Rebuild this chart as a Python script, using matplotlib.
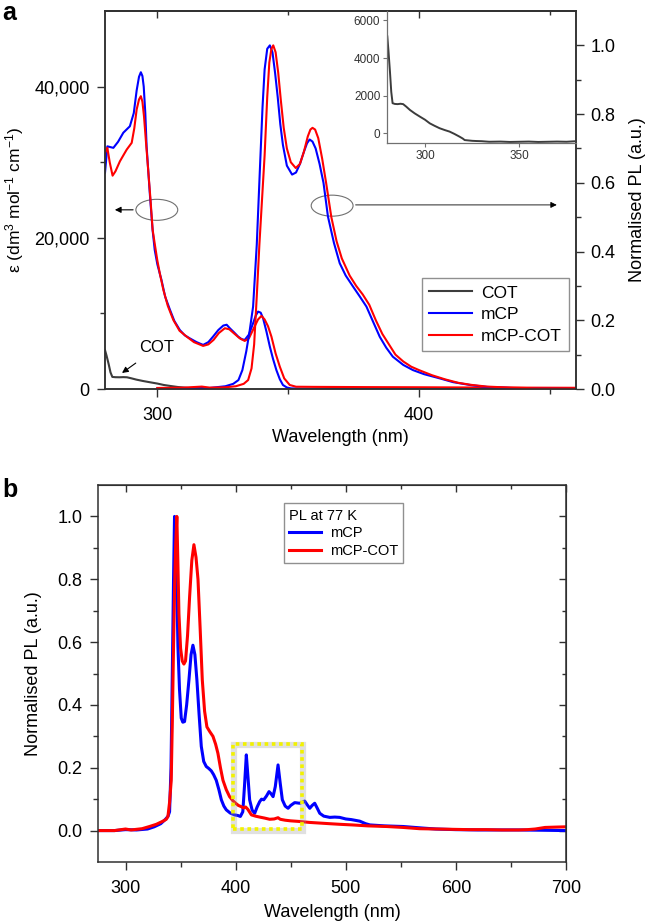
import matplotlib
matplotlib.use('Agg')
import matplotlib.pyplot as plt
from matplotlib.patches import Ellipse, Rectangle

plt.rcParams['font.family'] = ['Liberation Sans', 'DejaVu Sans']
plt.rcParams['mathtext.fontset'] = 'custom'
plt.rcParams['mathtext.rm'] = 'Liberation Sans'
plt.rcParams['mathtext.it'] = 'Liberation Sans:italic'

# ---- panel a : absorption (left axis) ----
abs_wl_mcp = [280, 280.9, 282, 283.2, 285, 287, 289.5, 291, 292.1, 293, 293.7, 294.3, 294.8, 295.4, 295.9,
              296.6, 297.2, 298.2, 299, 300, 301.6, 303, 304.8, 306.5, 308.6, 310.5, 312.4, 315, 317.5,
              319.5, 321.3, 323.3, 325.2, 326.5, 327.7, 329.3, 330.9, 332.2, 333.4, 335, 336.6, 337.6,
              338.5, 339.5, 340.4, 341.7, 343, 344.2, 345.5, 346.8, 348, 349.5, 351, 355, 360, 380, 400,
              420, 440, 460]
abs_mcp = [28600, 32100, 32000, 31900, 32700, 33900, 34750, 36500, 39500, 41300, 41900, 41400, 40000,
           36500, 32100, 28500, 25500, 21000, 18400, 16500, 14400, 12200, 10500, 9000, 7800, 7100, 6700,
           6200, 5830, 6200, 6930, 7800, 8390, 8500, 8040, 7500, 6930, 6600, 6490, 7200, 8700, 9700,
           10240, 10100, 9370, 7600, 5600, 4000, 2500, 1300, 530, 200, 80, 40, 20, 20, 10, 10, 0, 0]

abs_wl_mcpcot = [280, 280.9, 281.8, 282.9, 284, 285.7, 287, 288.3, 290.2, 291.2, 292.1, 293, 293.7, 294.3,
                 294.9, 295.7, 296.5, 297.4, 298.2, 299.1, 300, 301, 302.3, 304, 306.1, 308.5, 311.2, 314,
                 317.5, 319.5, 321.5, 323.5, 325.8, 327.5, 329.5, 331.5, 333.4, 335, 336.8, 338.5, 339.8,
                 341, 342.3, 343.6, 345.2, 346.8, 348.5, 350.6, 353, 360, 380, 400, 420, 440, 460]
abs_mcpcot = [31220, 31900, 30000, 28220, 28800, 30120, 30900, 31670, 32560, 34500, 36970, 38300, 38730,
              38000, 36080, 32500, 29000, 25000, 21070, 19000, 17000, 15200, 13120, 11000, 9140, 7700, 6930,
              6200, 5700, 5900, 6500, 7400, 8040, 7900, 7300, 6700, 6360, 6700, 8000, 9200, 9670, 9200, 8300,
              6930, 4700, 2960, 1400, 530, 300, 280, 250, 230, 200, 180, 160]

cot_wl = [280, 280.6, 281.4, 282.1, 282.8, 284, 285.5, 287, 288.4, 290, 292, 294.5, 297.2, 300, 302.5, 305,
          307.7, 310.5, 313, 315.5, 318.3, 320, 321, 323, 325, 327, 330, 334, 340, 345, 350, 355, 360, 365,
          370, 375, 380, 400, 420, 440, 460]
cot_abs = [5150, 4400, 3290, 2200, 1600, 1560, 1550, 1570, 1550, 1420, 1240, 1060, 890, 720, 530, 400, 270,
           170, 90, -30, -180, -280, -360, -380, -400, -410, -420, -450, -440, -460, -450, -440, -460, -450,
           -440, -450, -420, -430, -430, -430, -430]

# ---- panel a : room temperature PL (right axis) ----
pl_wl_mcp = [300, 310, 320, 326, 329, 331, 332.5, 334, 335.3, 336.6, 338, 339.2, 340.2, 341, 342, 343, 344,
             345, 346, 347, 348, 349.5, 351.5, 353, 354.5, 356, 357.2, 358.2, 359.3, 360.5, 362, 363.5, 365.2,
             367.5, 369.7, 372, 374.8, 377.3, 379.9, 382.5, 385, 387.5, 390, 394, 397.7, 402, 407.9, 413, 420,
             426, 435, 445, 460]
pl_mcp = [0.002, 0.003, 0.003, 0.008, 0.015, 0.026, 0.055, 0.11, 0.17, 0.24, 0.42, 0.64, 0.82, 0.93, 0.99,
          1.0, 0.98, 0.92, 0.85, 0.77, 0.71, 0.65, 0.624, 0.63, 0.655, 0.69, 0.715, 0.726, 0.72, 0.7, 0.655,
          0.6, 0.502, 0.425, 0.366, 0.33, 0.298, 0.27, 0.24, 0.195, 0.152, 0.12, 0.094, 0.07, 0.055, 0.043,
          0.031, 0.02, 0.011, 0.006, 0.003, 0.001, 0.0]

pl_wl_mcpcot = [300, 310, 317, 320, 326, 330, 333, 334.7, 336, 337, 338, 339, 340, 341, 342, 342.8, 343.6,
                344.3, 345.2, 346.2, 347.2, 348.3, 349.5, 351, 352.9, 354.5, 356, 357.5, 358.5, 359.3, 360.3,
                361.5, 363, 364.5, 366.5, 368.5, 370.5, 373.5, 376, 378.5, 381, 383.5, 386, 388.5, 391, 394,
                397, 400, 405, 410, 415, 420, 426, 435, 445, 460]
pl_mcpcot = [0.003, 0.004, 0.007, 0.004, 0.005, 0.008, 0.015, 0.026, 0.06, 0.13, 0.27, 0.42, 0.55, 0.68,
             0.85, 0.95, 0.99, 1.0, 0.98, 0.92, 0.84, 0.76, 0.7, 0.66, 0.643, 0.655, 0.69, 0.735, 0.755, 0.76,
             0.755, 0.73, 0.67, 0.6, 0.5, 0.43, 0.38, 0.33, 0.3, 0.275, 0.245, 0.2, 0.16, 0.13, 0.1, 0.08,
             0.065, 0.055, 0.04, 0.028, 0.018, 0.012, 0.007, 0.004, 0.002, 0.001]

# ---- panel b : PL at 77 K ----
lt_wl_mcp = [275, 290, 300, 310, 320, 326, 332, 336, 338.5, 340, 341.3, 342.4, 343.6, 344.5, 345.5, 346.5,
             347.6, 349, 350.6, 352, 353.6, 355.5, 357.6, 359.5, 361.2, 363, 364.8, 366.8, 368.8, 371, 373.3,
             375.5, 377.9, 380, 382.4, 384.8, 387, 389.3, 391.5, 395, 399, 402, 404.3, 406.5, 408, 409.7,
             411.2, 412.7, 415, 417.3, 419.5, 421.8, 423.5, 425.5, 428, 430.3, 432, 434, 436, 438.5, 440.5,
             442.4, 445, 447.6, 450, 453.6, 456, 458, 460.5, 462.7, 465, 467.3, 469.5, 471.8, 474, 476.4, 480,
             485.5, 490, 494.5, 500, 505, 512.7, 518, 522, 535, 552, 570, 582, 600, 620, 640, 657, 680, 700]
lt_mcp = [0.0, 0.0, 0.003, 0.002, 0.005, 0.012, 0.022, 0.035, 0.045, 0.06, 0.2, 0.48, 0.8, 1.0, 0.95, 0.78,
          0.586, 0.45, 0.358, 0.345, 0.347, 0.4, 0.48, 0.56, 0.59, 0.56, 0.48, 0.37, 0.268, 0.22, 0.204, 0.198,
          0.19, 0.178, 0.16, 0.13, 0.098, 0.078, 0.066, 0.056, 0.05, 0.048, 0.045, 0.06, 0.14, 0.241, 0.17,
          0.098, 0.065, 0.055, 0.075, 0.092, 0.1, 0.098, 0.11, 0.124, 0.118, 0.108, 0.14, 0.209, 0.15, 0.098,
          0.078, 0.071, 0.08, 0.089, 0.088, 0.087, 0.09, 0.094, 0.082, 0.071, 0.08, 0.087, 0.072, 0.055, 0.046,
          0.042, 0.043, 0.042, 0.037, 0.035, 0.03, 0.022, 0.018, 0.015, 0.013, 0.008, 0.005, 0.003, 0.002,
          0.002, 0.002, 0.001, 0.0]

lt_wl_mcpcot = [275, 290, 300, 305, 315, 321.8, 328, 334, 337, 338.5, 340, 341.5, 342.5, 343.6, 344.6, 345.5,
                346.6, 347.5, 348.5, 350, 351.5, 353, 354.5, 356.3, 358.2, 360.2, 362.1, 364, 365.8, 367.8,
                369.7, 371.8, 373.9, 376.5, 379.4, 381.8, 383.9, 386.2, 388.5, 391.5, 394.5, 397.5, 400, 402.5,
                405.2, 407, 409.1, 411, 414.3, 418, 421.8, 426, 430.9, 435, 438.5, 440.5, 445, 450, 458, 467,
                476, 485, 494.5, 506, 520, 537, 552, 567, 582, 597, 612, 627, 642, 657, 665, 672, 681, 690, 700]
lt_mcpcot = [0.0, 0.0, 0.005, 0.002, 0.006, 0.013, 0.02, 0.03, 0.036, 0.045, 0.09, 0.16, 0.35, 0.586, 0.78,
             0.905, 1.0, 0.86, 0.69, 0.58, 0.54, 0.53, 0.54, 0.62, 0.745, 0.86, 0.91, 0.87, 0.8, 0.64, 0.48,
             0.38, 0.33, 0.315, 0.3, 0.275, 0.246, 0.2, 0.16, 0.13, 0.108, 0.095, 0.087, 0.08, 0.076, 0.072,
             0.075, 0.068, 0.05, 0.046, 0.043, 0.04, 0.036, 0.037, 0.041, 0.036, 0.033, 0.031, 0.029, 0.026,
             0.024, 0.022, 0.02, 0.018, 0.015, 0.013, 0.01, 0.006, 0.005, 0.004, 0.003, 0.003, 0.002, 0.002,
             0.003, 0.005, 0.01, 0.011, 0.012]

BLUE = '#0000ff'
RED = '#ff0000'
GREY = '#3c3c3c'
SPINE = '#303030'

fig = plt.figure(figsize=(6.48, 9.24), dpi=100)

# ================= panel a =================
ax1 = fig.add_axes([105 / 648, 1 - 389 / 924, 471 / 648, 378 / 924])
ax2 = ax1.twinx()

l_cot, = ax1.plot(cot_wl, cot_abs, color=GREY, lw=1.5)
l_mcp, = ax1.plot(abs_wl_mcp, abs_mcp, color=BLUE, lw=1.5)
l_mcpcot, = ax1.plot(abs_wl_mcpcot, abs_mcpcot, color=RED, lw=1.5)
ax2.plot(pl_wl_mcp, pl_mcp, color=BLUE, lw=1.5)
ax2.plot(pl_wl_mcpcot, pl_mcpcot, color=RED, lw=1.5)

ax1.set_xlim(280, 460)
ax1.set_ylim(0, 50000)
ax2.set_ylim(0, 1.1)
ax1.set_xticks([300, 400])
ax1.set_xticks([350, 450], minor=True)
ax1.set_yticks([0, 20000, 40000])
ax1.set_yticklabels(['0', '20,000', '40,000'])
ax1.set_yticks([10000, 30000], minor=True)
ax2.set_yticks([0, 0.2, 0.4, 0.6, 0.8, 1.0])
ax2.set_yticks([0.1, 0.3, 0.5, 0.7, 0.9], minor=True)
ax2.set_yticklabels(['0.0', '0.2', '0.4', '0.6', '0.8', '1.0'])

for a in (ax1, ax2):
    for s in a.spines.values():
        s.set_color(SPINE)
        s.set_linewidth(1.1)
    a.tick_params(which='major', direction='out', length=6, width=1.0, color=SPINE, labelsize=13)
    a.tick_params(which='minor', direction='out', length=3.5, width=1.0, color=SPINE)
ax1.tick_params(axis='y', pad=5)
ax1.tick_params(axis='x', pad=7)
ax2.tick_params(axis='y', pad=4.5)

top = ax1.secondary_xaxis('top')
top.set_xticks([300, 400])
top.set_xticks([350, 450], minor=True)
top.tick_params(which='major', direction='in', length=5, width=1.0, color=SPINE, labeltop=False)
top.tick_params(which='minor', direction='in', length=3, width=1.0, color=SPINE)
top.spines['top'].set_color(SPINE)
top.spines['top'].set_linewidth(1.1)

ax1.set_xlabel('Wavelength (nm)', fontsize=13)
ax1.xaxis.set_label_coords(0.5, -0.106)
ax1.set_ylabel(r'ε (dm$^{3}$ mol$^{-1}$ cm$^{-1}$)', fontsize=12.5)
ax1.yaxis.set_label_coords(-0.168, 0.5)
ax2.set_ylabel('Normalised PL (a.u.)', fontsize=13)
ax2.yaxis.set_label_coords(1.113, 0.5)

# ellipses + arrows showing which axis
ax1.add_patch(Ellipse((299.8, 23700), 16, 2780, fill=False, ec='#707070', lw=0.8))
ax1.annotate('', xy=(282.7, 23700), xytext=(291.8, 23700),
             arrowprops=dict(arrowstyle='-|>', color='black', lw=0.8, mutation_scale=9))
ax1.add_patch(Ellipse((366.8, 24250), 16, 2780, fill=False, ec='#707070', lw=0.8))
ax1.annotate('', xy=(453.7, 24350), xytext=(374.7, 24350),
             arrowprops=dict(arrowstyle='-|>', color='black', lw=0.6, mutation_scale=9))

ax1.annotate('COT', xy=(286.5, 2120), xytext=(299.8, 5430), fontsize=12, ha='center', va='center',
             arrowprops=dict(arrowstyle='-|>', color='black', lw=0.8, mutation_scale=9, shrinkA=6, shrinkB=0))

leg = ax2.legend([l_cot, l_mcp, l_mcpcot], ['COT', 'mCP', 'mCP-COT'], loc='lower right',
                 bbox_to_anchor=(0.985, 0.1005), borderaxespad=0, fontsize=12.5, handlelength=2.5,
                 handletextpad=0.5, borderpad=0.4, labelspacing=0.38, fancybox=False,
                 edgecolor='#909090', framealpha=1)
leg.get_frame().set_linewidth(1.0)

# inset: COT absorption
ax_in = fig.add_axes([387.3 / 648, 1 - 142.7 / 924, (576 - 387.3) / 648, (142.7 - 11) / 924])
ax_in.patch.set_alpha(0)
ax_in.plot(cot_wl, cot_abs, color=GREY, lw=1.4)
ax_in.set_xlim(280, 380)
ax_in.set_ylim(-500, 6500)
ax_in.set_xticks([300, 350])
ax_in.set_yticks([0, 2000, 4000, 6000])
ax_in.spines['top'].set_visible(False)
ax_in.spines['right'].set_visible(False)
for s in ('left', 'bottom'):
    ax_in.spines[s].set_color('#707070')
    ax_in.spines[s].set_linewidth(0.9)
ax_in.tick_params(direction='out', length=3, width=0.8, color='#707070', labelsize=8.5,
                  labelcolor='#333333', pad=2)

# ================= panel b =================
ax3 = fig.add_axes([98 / 648, 1 - 862 / 924, 468 / 648, 377 / 924])
ax3.plot(lt_wl_mcp, lt_mcp, color=BLUE, lw=2.2, label='mCP')
ax3.plot(lt_wl_mcpcot, lt_mcpcot, color=RED, lw=2.2, label='mCP-COT')

# highlighted region
ax3.add_patch(Rectangle((398.6, 0.0), 62.5, 0.272, fill=False, ec='#9a9a9a', lw=4.5, alpha=0.3,
                        joinstyle='miter', zorder=3))
ax3.add_patch(Rectangle((398, 0.004), 62.5, 0.272, fill=False, ec='#f2f200', lw=2.6,
                        linestyle=(0, (1, 1)), zorder=4))

ax3.set_xlim(275, 700)
ax3.set_ylim(-0.1, 1.1)
ax3.set_xticks([300, 400, 500, 600, 700])
ax3.set_xticks([350, 450, 550, 650], minor=True)
ax3.set_yticks([0, 0.2, 0.4, 0.6, 0.8, 1.0])
ax3.set_yticklabels(['0.0', '0.2', '0.4', '0.6', '0.8', '1.0'])
ax3.set_yticks([0.1, 0.3, 0.5, 0.7, 0.9], minor=True)
for s in ax3.spines.values():
    s.set_color(SPINE)
    s.set_linewidth(1.1)
ax3.tick_params(which='major', direction='out', length=6, width=1.0, color=SPINE, labelsize=13)
ax3.tick_params(which='minor', direction='out', length=3.5, width=1.0, color=SPINE)
ax3.tick_params(axis='y', pad=5)
ax3.tick_params(axis='x', pad=7)

top3 = ax3.secondary_xaxis('top')
top3.set_xticks([300, 400, 500, 600, 700])
top3.set_xticks([350, 450, 550, 650], minor=True)
top3.tick_params(which='major', direction='in', length=5, width=1.0, color=SPINE, labeltop=False)
top3.tick_params(which='minor', direction='in', length=3, width=1.0, color=SPINE)
top3.spines['top'].set_color(SPINE)
right3 = ax3.secondary_yaxis('right')
right3.set_yticks([0, 0.2, 0.4, 0.6, 0.8, 1.0])
right3.set_yticks([0.1, 0.3, 0.5, 0.7, 0.9], minor=True)
right3.tick_params(which='major', direction='in', length=5, width=1.0, color=SPINE, labelright=False)
right3.tick_params(which='minor', direction='in', length=3, width=1.0, color=SPINE)
right3.spines['right'].set_color(SPINE)

ax3.set_xlabel('Wavelength (nm)', fontsize=13)
ax3.xaxis.set_label_coords(0.5, -0.111)
ax3.set_ylabel('Normalised PL (a.u.)', fontsize=13)
ax3.yaxis.set_label_coords(-0.12, 0.5)

leg3 = ax3.legend(loc='upper left', bbox_to_anchor=(0.397, 0.951), borderaxespad=0, title='PL at 77 K',
                  title_fontsize=10.5, fontsize=10.5, handlelength=2.2, handletextpad=0.6,
                  labelspacing=0.25, borderpad=0.35, fancybox=False, edgecolor='#909090', framealpha=1,
                  alignment='left')
leg3.get_frame().set_linewidth(1.0)
for ln in leg3.get_lines():
    ln.set_linewidth(2.2)

fig.text(0.004, 0.999, 'a', fontsize=18, fontweight='bold', ha='left', va='top')
fig.text(0.004, 1 - 490 / 924, 'b', fontsize=18, fontweight='bold', ha='left', va='center')

fig.savefig('out.png', dpi=100)
